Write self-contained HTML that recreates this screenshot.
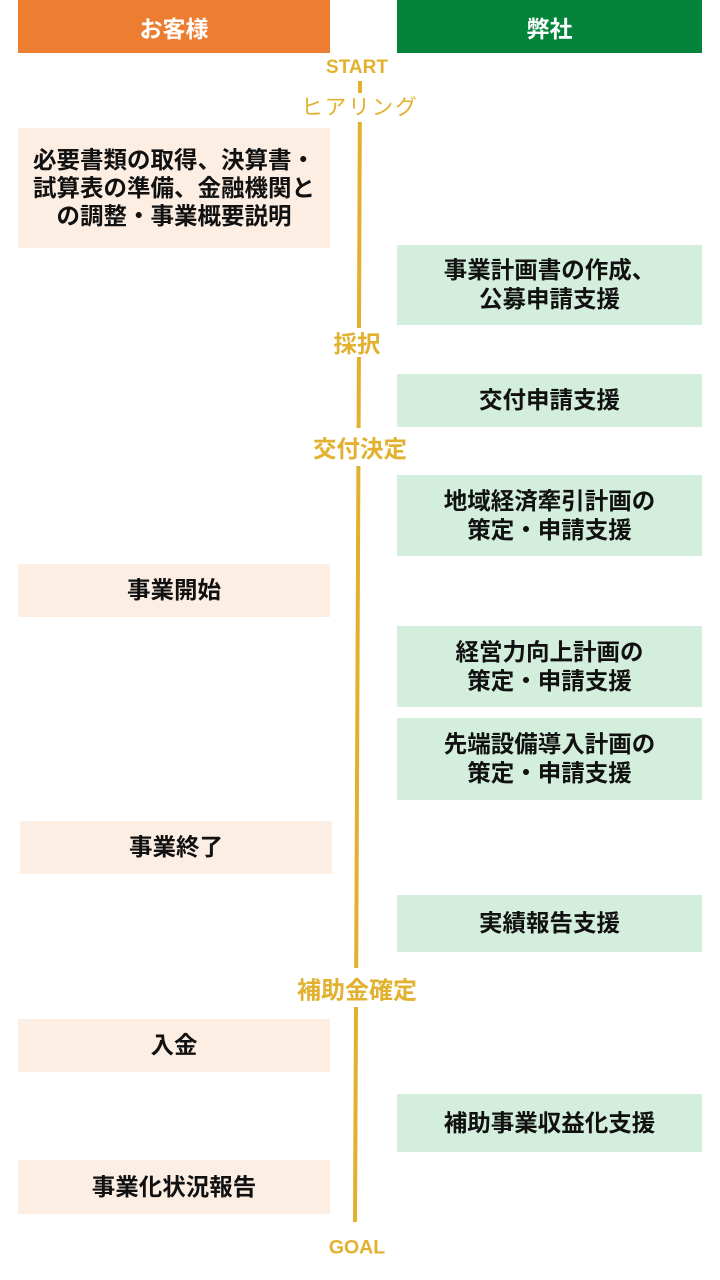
<!DOCTYPE html>
<html><head><meta charset="utf-8">
<style>
html,body{margin:0;padding:0;background:#fff;}
body{width:720px;height:1280px;position:relative;overflow:hidden;font-family:"Liberation Sans","Noto Sans CJK JP",sans-serif;}
.b{position:absolute;display:flex;align-items:center;justify-content:center;text-align:center;font-weight:bold;color:#111;font-size:23.5px;line-height:29px;font-family:"Liberation Sans","Noto Sans CJK JP",sans-serif;}
.p{background:#FDEEE4;}
.g{background:#D3EEDC;}
.h{position:absolute;top:0;height:53px;display:flex;align-items:center;justify-content:center;color:#fff;font-weight:bold;font-size:23px;}
.l{position:absolute;transform:translate(-50%,-50%);color:#E2B12F;white-space:nowrap;font-family:"Liberation Sans","Noto Sans CJK JP",sans-serif;}
</style></head><body>
<div class="h" style="left:18px;width:312px;background:#ED7D31;">お客様</div>
<div class="h" style="left:397px;width:305px;background:#04843B;">弊社</div>

<svg width="720" height="1280" style="position:absolute;left:0;top:0" xmlns="http://www.w3.org/2000/svg">
<g stroke="#E0B02E" stroke-width="4">
<line x1="360" y1="81" x2="360" y2="93"/>
<line x1="359.8" y1="122" x2="359" y2="328"/>
<line x1="358.9" y1="357" x2="358.6" y2="428"/>
<line x1="358.4" y1="466" x2="356.2" y2="968"/>
<line x1="356" y1="1007" x2="355" y2="1222"/>
</g>
</svg>

<div class="l" style="left:357px;top:68px;font-size:19px;font-weight:bold;">START</div>
<div class="l" style="left:360px;top:106px;font-size:21.5px;letter-spacing:2px;">ヒアリング</div>
<div class="l" style="left:357px;top:342px;font-size:23.5px;font-weight:bold;">採択</div>
<div class="l" style="left:360px;top:447px;font-size:23.5px;font-weight:bold;">交付決定</div>
<div class="l" style="left:357px;top:988px;font-size:24px;font-weight:bold;">補助金確定</div>
<div class="l" style="left:357px;top:1248px;font-size:19.5px;font-weight:bold;">GOAL</div>

<div class="b p" style="left:18px;top:128px;width:312px;height:120px;line-height:28px;">必要書類の取得、決算書・<br>試算表の準備、金融機関と<br>の調整・事業概要説明</div>
<div class="b g" style="left:397px;top:245px;width:305px;height:80px;">事業計画書の作成、<br>公募申請支援</div>
<div class="b g" style="left:397px;top:374px;width:305px;height:53px;">交付申請支援</div>
<div class="b g" style="left:397px;top:475px;width:305px;height:81px;">地域経済牽引計画の<br>策定・申請支援</div>
<div class="b p" style="left:18px;top:564px;width:312px;height:53px;">事業開始</div>
<div class="b g" style="left:397px;top:626px;width:305px;height:81px;">経営力向上計画の<br>策定・申請支援</div>
<div class="b g" style="left:397px;top:718px;width:305px;height:82px;">先端設備導入計画の<br>策定・申請支援</div>
<div class="b p" style="left:20px;top:821px;width:312px;height:53px;">事業終了</div>
<div class="b g" style="left:397px;top:895px;width:305px;height:57px;">実績報告支援</div>
<div class="b p" style="left:18px;top:1019px;width:312px;height:53px;">入金</div>
<div class="b g" style="left:397px;top:1094px;width:305px;height:58px;">補助事業収益化支援</div>
<div class="b p" style="left:18px;top:1160px;width:312px;height:54px;">事業化状況報告</div>
</body></html>
